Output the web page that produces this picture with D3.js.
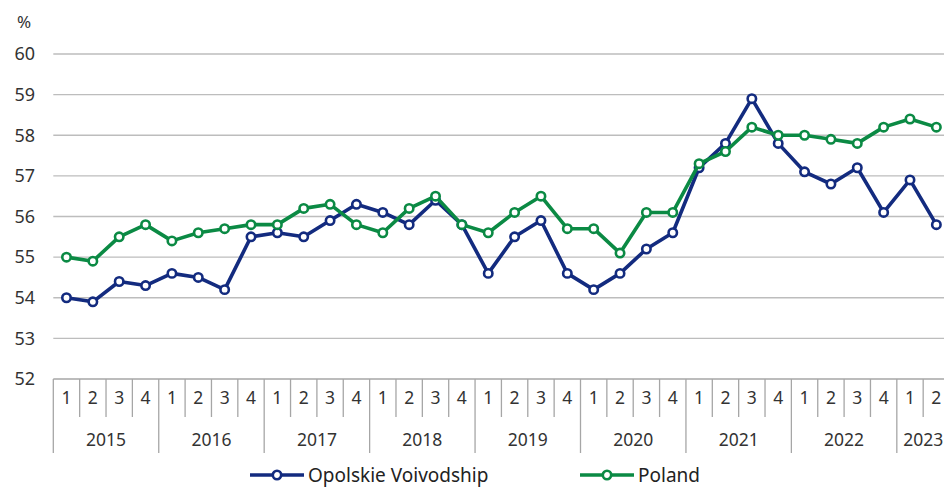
<!DOCTYPE html>
<html>
<head>
<meta charset="utf-8">
<script src="https://cdn.jsdelivr.net/npm/d3@7"></script>
<style>
  body { margin: 0; background: #fff; overflow: hidden; }
  svg { display: block; font-family: "Noto Sans", sans-serif; }
</style>
</head>
<body>
<div id="chart"></div>
<script>
// quarters 2015 Q1 .. 2023 Q2
const years = ["2015", "2016", "2017", "2018", "2019", "2020", "2021", "2022", "2023"];
const quartersInYear = [4, 4, 4, 4, 4, 4, 4, 4, 2];
const yTicks = [52, 53, 54, 55, 56, 57, 58, 59, 60];

const opolskie = [54.0, 53.9, 54.4, 54.3, 54.6, 54.5, 54.2, 55.5,
                  55.6, 55.5, 55.9, 56.3, 56.1, 55.8, 56.4, 55.8,
                  54.6, 55.5, 55.9, 54.6, 54.2, 54.6, 55.2, 55.6,
                  57.2, 57.8, 58.9, 57.8, 57.1, 56.8, 57.2, 56.1,
                  56.9, 55.8];
const poland = [55.0, 54.9, 55.5, 55.8, 55.4, 55.6, 55.7, 55.8,
                55.8, 56.2, 56.3, 55.8, 55.6, 56.2, 56.5, 55.8,
                55.6, 56.1, 56.5, 55.7, 55.7, 55.1, 56.1, 56.1,
                57.3, 57.6, 58.2, 58.0, 58.0, 57.9, 57.8, 58.2,
                58.4, 58.2];

const seriesNames = ["Opolskie Voivodship", "Poland"];
const colors = ["#132b7f", "#0b8a44"];

// build category list
let cats = [];
years.forEach(function(y, i){
    for (let q = 1; q <= quartersInYear[i]; q++) cats.push({key: y + "-" + q, year: y, q: q});
});

const width = 944, height = 490;
const plotLeft = 53.3, bandW = 26.36;
const plotTop = 54, plotBottom = 379;

let svg = d3.select("#chart").append("svg")
    .attr("width", width)
    .attr("height", height);

let x = d3.scaleBand()
    .domain(cats.map(d => d.key))
    .range([plotLeft, plotLeft + bandW * cats.length])
    .padding(0);

let y = d3.scaleLinear()
    .domain([52, 60])
    .range([plotBottom, plotTop]);

//gridlines
svg.append("g").selectAll("line")
    .data(yTicks.filter(d => d > 52))
    .enter().append("line")
        .attr("x1", plotLeft).attr("x2", width)
        .attr("y1", d => y(d)).attr("y2", d => y(d))
        .attr("stroke", "#bdbdbd")
        .attr("stroke-width", 1.3);

//y labels
svg.append("g").selectAll("text")
    .data(yTicks)
    .enter().append("text")
        .attr("x", 35)
        .attr("y", d => y(d))
        .attr("dy", "0.35em")
        .attr("text-anchor", "end")
        .attr("font-size", 18)
        .attr("fill", "#333")
        .text(d => d);

svg.append("text")
    .attr("x", 24).attr("y", 28)
    .attr("text-anchor", "middle")
    .attr("font-size", 17)
    .attr("fill", "#333")
    .text("%");

//x axis
let axis = svg.append("g");
axis.append("line")
    .attr("x1", plotLeft).attr("x2", width)
    .attr("y1", plotBottom).attr("y2", plotBottom)
    .attr("stroke", "#a6a6a6").attr("stroke-width", 1.3);

axis.selectAll(".qdiv")
    .data(cats)
    .enter().append("line")
        .attr("class", "qdiv")
        .attr("x1", d => x(d.key)).attr("x2", d => x(d.key))
        .attr("y1", plotBottom)
        .attr("y2", d => d.q == 1 ? 453 : 417)
        .attr("stroke", "#a6a6a6").attr("stroke-width", 1.3);

axis.selectAll(".qlab")
    .data(cats)
    .enter().append("text")
        .attr("class", "qlab")
        .attr("x", d => x(d.key) + bandW / 2)
        .attr("y", 398)
        .attr("dy", "0.35em")
        .attr("text-anchor", "middle")
        .attr("font-size", 17.5)
        .attr("fill", "#333")
        .text(d => d.q);

axis.selectAll(".ylab")
    .data(years)
    .enter().append("text")
        .attr("class", "ylab")
        .attr("x", function(d, i){
            let first = x(d + "-1");
            return first + bandW * quartersInYear[i] / 2;
        })
        .attr("y", 440)
        .attr("dy", "0.35em")
        .attr("text-anchor", "middle")
        .attr("font-size", 17.5)
        .attr("fill", "#333")
        .text(d => d);

//lines
let line = d3.line()
    .x((d, i) => x(cats[i].key) + bandW / 2)
    .y(d => y(d));

[opolskie, poland].forEach(function(vals, s){
    let g = svg.append("g");
    g.append("path")
        .datum(vals)
        .attr("d", line)
        .attr("fill", "none")
        .attr("stroke", colors[s])
        .attr("stroke-width", 3.6)
        .attr("stroke-linejoin", "round");
    g.selectAll("circle")
        .data(vals)
        .enter().append("circle")
            .attr("cx", (d, i) => x(cats[i].key) + bandW / 2)
            .attr("cy", d => y(d))
            .attr("r", 4.2)
            .attr("fill", "#fff")
            .attr("stroke", colors[s])
            .attr("stroke-width", 2.6);
});

//legend
const legendX = [250, 580];
let legend = svg.append("g");
seriesNames.forEach(function(name, i){
    let lg = legend.append("g").attr("transform", "translate(" + legendX[i] + ",475)");
    lg.append("line")
        .attr("x1", 0).attr("x2", 54)
        .attr("stroke", colors[i]).attr("stroke-width", 3.6);
    lg.append("circle")
        .attr("cx", 27).attr("r", 4.2)
        .attr("fill", "#fff").attr("stroke", colors[i]).attr("stroke-width", 2.6);
    lg.append("text")
        .attr("x", 58).attr("y", 0)
        .attr("dy", "0.35em")
        .attr("font-size", 19)
        .attr("fill", "#222")
        .text(name);
});
</script>
</body>
</html>
